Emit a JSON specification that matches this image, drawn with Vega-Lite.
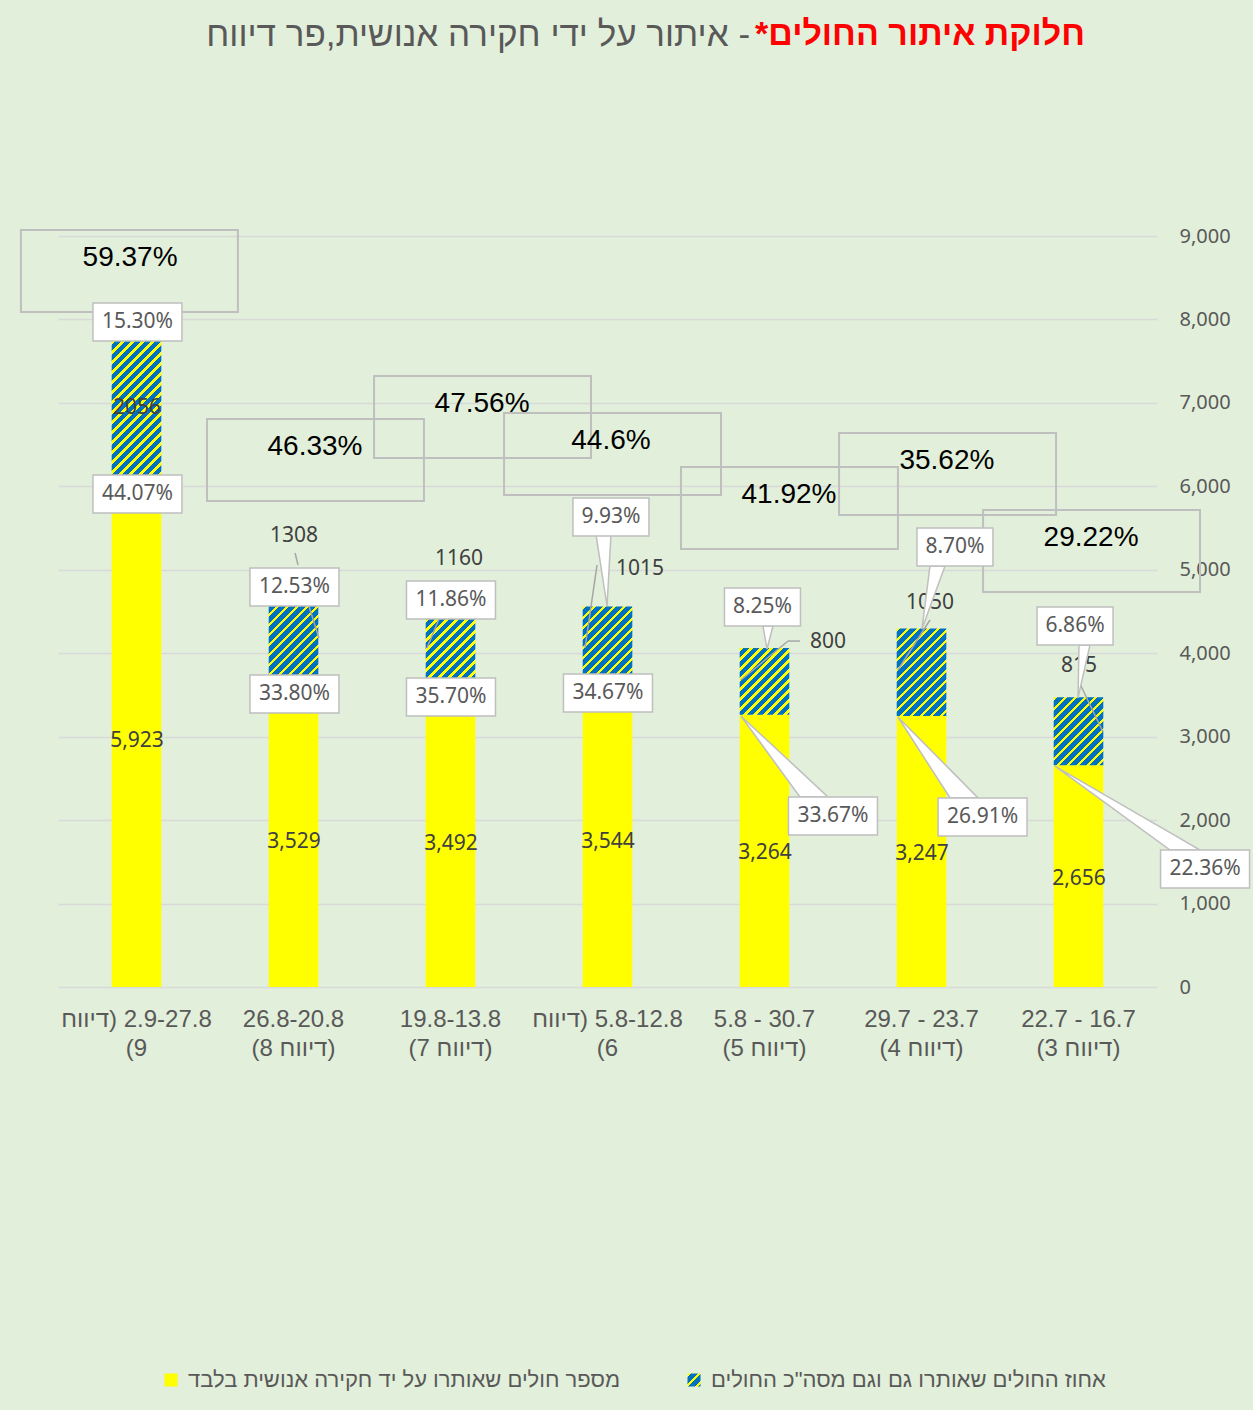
{
  "$schema": "https://vega.github.io/schema/vega-lite/v6.json",
  "width": 1099,
  "height": 751,
  "autosize": {"type": "none"},
  "padding": {"left": 58, "top": 236, "right": 96, "bottom": 423},
  "background": "#E2EFDA",
  "config": {"view": {"stroke": null}},
  "params": [
    {"name": "stripes", "value": [
      {"offset":0,"color":"#ff0"},{"offset":0.0125,"color":"#ff0"},{"offset":0.0125,"color":"#0070c0"},{"offset":0.035714,"color":"#0070c0"},
      {"offset":0.035714,"color":"#ff0"},{"offset":0.048214,"color":"#ff0"},{"offset":0.048214,"color":"#0070c0"},{"offset":0.071429,"color":"#0070c0"},
      {"offset":0.071429,"color":"#ff0"},{"offset":0.083929,"color":"#ff0"},{"offset":0.083929,"color":"#0070c0"},{"offset":0.107143,"color":"#0070c0"},
      {"offset":0.107143,"color":"#ff0"},{"offset":0.119643,"color":"#ff0"},{"offset":0.119643,"color":"#0070c0"},{"offset":0.142857,"color":"#0070c0"},
      {"offset":0.142857,"color":"#ff0"},{"offset":0.155357,"color":"#ff0"},{"offset":0.155357,"color":"#0070c0"},{"offset":0.178571,"color":"#0070c0"},
      {"offset":0.178571,"color":"#ff0"},{"offset":0.191071,"color":"#ff0"},{"offset":0.191071,"color":"#0070c0"},{"offset":0.214286,"color":"#0070c0"},
      {"offset":0.214286,"color":"#ff0"},{"offset":0.226786,"color":"#ff0"},{"offset":0.226786,"color":"#0070c0"},{"offset":0.25,"color":"#0070c0"},
      {"offset":0.25,"color":"#ff0"},{"offset":0.2625,"color":"#ff0"},{"offset":0.2625,"color":"#0070c0"},{"offset":0.285714,"color":"#0070c0"},
      {"offset":0.285714,"color":"#ff0"},{"offset":0.298214,"color":"#ff0"},{"offset":0.298214,"color":"#0070c0"},{"offset":0.321429,"color":"#0070c0"},
      {"offset":0.321429,"color":"#ff0"},{"offset":0.333929,"color":"#ff0"},{"offset":0.333929,"color":"#0070c0"},{"offset":0.357143,"color":"#0070c0"},
      {"offset":0.357143,"color":"#ff0"},{"offset":0.369643,"color":"#ff0"},{"offset":0.369643,"color":"#0070c0"},{"offset":0.392857,"color":"#0070c0"},
      {"offset":0.392857,"color":"#ff0"},{"offset":0.405357,"color":"#ff0"},{"offset":0.405357,"color":"#0070c0"},{"offset":0.428571,"color":"#0070c0"},
      {"offset":0.428571,"color":"#ff0"},{"offset":0.441071,"color":"#ff0"},{"offset":0.441071,"color":"#0070c0"},{"offset":0.464286,"color":"#0070c0"},
      {"offset":0.464286,"color":"#ff0"},{"offset":0.476786,"color":"#ff0"},{"offset":0.476786,"color":"#0070c0"},{"offset":0.5,"color":"#0070c0"},
      {"offset":0.5,"color":"#ff0"},{"offset":0.5125,"color":"#ff0"},{"offset":0.5125,"color":"#0070c0"},{"offset":0.535714,"color":"#0070c0"},
      {"offset":0.535714,"color":"#ff0"},{"offset":0.548214,"color":"#ff0"},{"offset":0.548214,"color":"#0070c0"},{"offset":0.571429,"color":"#0070c0"},
      {"offset":0.571429,"color":"#ff0"},{"offset":0.583929,"color":"#ff0"},{"offset":0.583929,"color":"#0070c0"},{"offset":0.607143,"color":"#0070c0"},
      {"offset":0.607143,"color":"#ff0"},{"offset":0.619643,"color":"#ff0"},{"offset":0.619643,"color":"#0070c0"},{"offset":0.642857,"color":"#0070c0"},
      {"offset":0.642857,"color":"#ff0"},{"offset":0.655357,"color":"#ff0"},{"offset":0.655357,"color":"#0070c0"},{"offset":0.678571,"color":"#0070c0"},
      {"offset":0.678571,"color":"#ff0"},{"offset":0.691071,"color":"#ff0"},{"offset":0.691071,"color":"#0070c0"},{"offset":0.714286,"color":"#0070c0"},
      {"offset":0.714286,"color":"#ff0"},{"offset":0.726786,"color":"#ff0"},{"offset":0.726786,"color":"#0070c0"},{"offset":0.75,"color":"#0070c0"},
      {"offset":0.75,"color":"#ff0"},{"offset":0.7625,"color":"#ff0"},{"offset":0.7625,"color":"#0070c0"},{"offset":0.785714,"color":"#0070c0"},
      {"offset":0.785714,"color":"#ff0"},{"offset":0.798214,"color":"#ff0"},{"offset":0.798214,"color":"#0070c0"},{"offset":0.821429,"color":"#0070c0"},
      {"offset":0.821429,"color":"#ff0"},{"offset":0.833929,"color":"#ff0"},{"offset":0.833929,"color":"#0070c0"},{"offset":0.857143,"color":"#0070c0"},
      {"offset":0.857143,"color":"#ff0"},{"offset":0.869643,"color":"#ff0"},{"offset":0.869643,"color":"#0070c0"},{"offset":0.892857,"color":"#0070c0"},
      {"offset":0.892857,"color":"#ff0"},{"offset":0.905357,"color":"#ff0"},{"offset":0.905357,"color":"#0070c0"},{"offset":0.928571,"color":"#0070c0"},
      {"offset":0.928571,"color":"#ff0"},{"offset":0.941071,"color":"#ff0"},{"offset":0.941071,"color":"#0070c0"},{"offset":0.964286,"color":"#0070c0"},
      {"offset":0.964286,"color":"#ff0"},{"offset":0.976786,"color":"#ff0"},{"offset":0.976786,"color":"#0070c0"},{"offset":1,"color":"#0070c0"}
    ]}
  ],
  "datasets": {
    "bars": [
      {"rep": 9, "cat": "דיווח\u200e) 2.9-27.8\n(9", "series": "מספר חולים שאותרו על יד חקירה אנושית בלבד", "value": 5923},
      {"rep": 9, "cat": "דיווח\u200e) 2.9-27.8\n(9", "series": "אחוז החולים שאותרו גם וגם מסה\"כ החולים", "value": 2056},
      {"rep": 8, "cat": "26.8-20.8\n(8 דיווח)", "series": "מספר חולים שאותרו על יד חקירה אנושית בלבד", "value": 3529},
      {"rep": 8, "cat": "26.8-20.8\n(8 דיווח)", "series": "אחוז החולים שאותרו גם וגם מסה\"כ החולים", "value": 1308},
      {"rep": 7, "cat": "19.8-13.8\n(7 דיווח)", "series": "מספר חולים שאותרו על יד חקירה אנושית בלבד", "value": 3492},
      {"rep": 7, "cat": "19.8-13.8\n(7 דיווח)", "series": "אחוז החולים שאותרו גם וגם מסה\"כ החולים", "value": 1160},
      {"rep": 6, "cat": "דיווח\u200e) 5.8-12.8\n(6", "series": "מספר חולים שאותרו על יד חקירה אנושית בלבד", "value": 3544},
      {"rep": 6, "cat": "דיווח\u200e) 5.8-12.8\n(6", "series": "אחוז החולים שאותרו גם וגם מסה\"כ החולים", "value": 1015},
      {"rep": 5, "cat": "5.8 - 30.7\n(5 דיווח)", "series": "מספר חולים שאותרו על יד חקירה אנושית בלבד", "value": 3264},
      {"rep": 5, "cat": "5.8 - 30.7\n(5 דיווח)", "series": "אחוז החולים שאותרו גם וגם מסה\"כ החולים", "value": 800},
      {"rep": 4, "cat": "29.7 - 23.7\n(4 דיווח)", "series": "מספר חולים שאותרו על יד חקירה אנושית בלבד", "value": 3247},
      {"rep": 4, "cat": "29.7 - 23.7\n(4 דיווח)", "series": "אחוז החולים שאותרו גם וגם מסה\"כ החולים", "value": 1050},
      {"rep": 3, "cat": "22.7 - 16.7\n(3 דיווח)", "series": "מספר חולים שאותרו על יד חקירה אנושית בלבד", "value": 2656},
      {"rep": 3, "cat": "22.7 - 16.7\n(3 דיווח)", "series": "אחוז החולים שאותרו גם וגם מסה\"כ החולים", "value": 815}
    ],
    "notes": [
      {"t":"15.30%","ax":0.506,"ay":7969,"k":"box"},
      {"t":"12.53%","ax":1.506,"ay":4794,"k":"box"},
      {"t":"11.86%","ax":2.503,"ay":4638,"k":"box"},
      {"t":"9.93%","ax":3.522,"ay":5632,"k":"box"},
      {"t":"8.25%","ax":4.487,"ay":4554,"k":"box"},
      {"t":"8.70%","ax":5.713,"ay":5273,"k":"box"},
      {"t":"6.86%","ax":6.478,"ay":4326,"k":"box"},
      {"t":"44.07%","ax":0.506,"ay":5908,"k":"box"},
      {"t":"33.80%","ax":1.506,"ay":3511,"k":"box"},
      {"t":"35.70%","ax":2.503,"ay":3475,"k":"box"},
      {"t":"34.67%","ax":3.503,"ay":3523,"k":"box"},
      {"t":"33.67%","ax":4.936,"ay":2049,"k":"box"},
      {"t":"26.91%","ax":5.889,"ay":2037,"k":"box"},
      {"t":"22.36%","ax":7.306,"ay":1414,"k":"box"},
      {"t":"2056","ax":0.503,"ay":6939,"k":"val"},
      {"t":"1308","ax":1.503,"ay":5405,"k":"val"},
      {"t":"1160","ax":2.554,"ay":5129,"k":"val"},
      {"t":"1015","ax":3.707,"ay":5009,"k":"val"},
      {"t":"800","ax":4.904,"ay":4134,"k":"val"},
      {"t":"1050","ax":5.554,"ay":4602,"k":"val"},
      {"t":"815","ax":6.503,"ay":3847,"k":"val"},
      {"t":"5,923","ax":0.503,"ay":2948,"k":"val"},
      {"t":"3,529","ax":1.503,"ay":1738,"k":"val"},
      {"t":"3,492","ax":2.503,"ay":1714,"k":"val"},
      {"t":"3,544","ax":3.503,"ay":1738,"k":"val"},
      {"t":"3,264","ax":4.503,"ay":1606,"k":"val"},
      {"t":"3,247","ax":5.503,"ay":1594,"k":"val"},
      {"t":"2,656","ax":6.503,"ay":1294,"k":"val"},
      {"t":"59.37%","ax":0.459,"ay":8736,"k":"big"},
      {"t":"46.33%","ax":1.637,"ay":6471,"k":"big"},
      {"t":"47.56%","ax":2.701,"ay":6987,"k":"big"},
      {"t":"44.6%","ax":3.522,"ay":6543,"k":"big"},
      {"t":"41.92%","ax":4.656,"ay":5896,"k":"big"},
      {"t":"35.62%","ax":5.662,"ay":6304,"k":"big"},
      {"t":"29.22%","ax":6.580,"ay":5381,"k":"big"}
    ],
    "frames": [
      {"ax":-0.236,"ax2":1.146,"ay":9072,"ay2":8089},
      {"ax":0.949,"ax2":2.331,"ay":6807,"ay2":5824},
      {"ax":2.013,"ax2":3.395,"ay":7322,"ay2":6340},
      {"ax":2.841,"ax2":4.223,"ay":6879,"ay2":5896},
      {"ax":3.968,"ax2":5.350,"ay":6232,"ay2":5249},
      {"ax":4.975,"ax2":6.357,"ay":6639,"ay2":5656},
      {"ax":5.892,"ax2":7.274,"ay":5716,"ay2":4734}
    ],
    "wedges": [
      {"w":1,"ax":4.350,"ay":3248,"ay2":3248},{"w":1,"ax":4.726,"ay":2590,"ay2":2277},{"w":1,"ax":4.904,"ay":2277,"ay2":2277},
      {"w":2,"ax":5.350,"ay":3236,"ay2":3236},{"w":2,"ax":5.682,"ay":2605,"ay2":2265},{"w":2,"ax":5.860,"ay":2265,"ay2":2265},
      {"w":3,"ax":6.350,"ay":2648,"ay2":2648},{"w":3,"ax":7.083,"ay":1850,"ay2":1642},{"w":3,"ax":7.274,"ay":1642,"ay2":1642},
      {"w":4,"ax":3.427,"ay":5417,"ay2":5417},{"w":4,"ax":3.497,"ay":5417,"ay2":4566},{"w":4,"ax":3.522,"ay":5417,"ay2":5417},
      {"w":5,"ax":5.503,"ay":4290,"ay2":4290},{"w":5,"ax":5.554,"ay":5045,"ay2":4553},{"w":5,"ax":5.650,"ay":5045,"ay2":5045},
      {"w":6,"ax":6.497,"ay":3463,"ay2":3463},{"w":6,"ax":6.503,"ay":4099,"ay2":3516},{"w":6,"ax":6.573,"ay":4099,"ay2":4099},
      {"w":7,"ax":4.490,"ay":4326,"ay2":4326},{"w":7,"ax":4.516,"ay":4326,"ay2":4051},{"w":7,"ax":4.554,"ay":4326,"ay2":4326}
    ],
    "leaders": [
      {"ax":4.726,"ay":4146,"ax2":4.650,"ay2":4146},
      {"ax":4.650,"ay":4146,"ax2":4.350,"ay2":3679},
      {"ax":3.433,"ay":5057,"ax2":3.357,"ay2":4063},
      {"ax":5.554,"ay":4398,"ax2":5.350,"ay2":3799},
      {"ax":6.510,"ay":3631,"ax2":6.656,"ay2":3056},
      {"ax":1.510,"ay":5201,"ax2":1.529,"ay2":5057},
      {"ax":1.592,"ay":4602,"ax2":1.662,"ay2":4182},
      {"ax":2.427,"ay":4410,"ax2":2.350,"ay2":4063}
    ]
  },
  "layer": [
    {
      "data": {"name": "bars"},
      "mark": {"type": "bar"},
      "encoding": {
        "x": {"field": "cat", "type": "nominal", "sort": null,
              "scale": {"paddingInner": 0.684, "paddingOuter": 0.342},
              "axis": {"title": null, "labelExpr": "split(datum.label, '\\n')", "labelAngle": 0, "labelFont": "Liberation Sans", "labelFontSize": 24, "labelColor": "#595959", "labelPadding": 20, "labelLineHeight": 29, "labelLimit": 300, "domain": false, "ticks": false}},
        "y": {"field": "value", "type": "quantitative", "stack": "zero",
              "scale": {"domain": [0, 9000], "nice": false, "zero": false},
              "axis": {"title": null, "orient": "right", "values": [0,1000,2000,3000,4000,5000,6000,7000,8000,9000], "format": ",.0f", "labelFont": "Noto Sans", "labelFontSize": 20, "labelColor": "#595959", "labelPadding": 22, "domain": false, "ticks": false, "grid": true, "gridColor": "#D9D9D9", "gridWidth": 1.5}},
        "order": {"field": "series", "type": "nominal", "sort": "descending"},
        "color": {
          "field": "series", "type": "nominal",
          "scale": {"domain": ["מספר חולים שאותרו על יד חקירה אנושית בלבד", "אחוז החולים שאותרו גם וגם מסה\"כ החולים"],
                    "range": ["#FFFF00", {"expr": "{gradient: 'linear', x1: 0, y1: 0, x2: 10.77, y2: 10.77, stops: stripes}"}]},
          "condition": {"test": "indexof(datum.series, 'אחוז') === 0",
                        "value": {"expr": "{gradient: 'linear', x1: 0, y1: 0, x2: 280*49.6/(2460.16+pow(datum.value*751/9000,2)), y2: 280*datum.value*751/9000/(2460.16+pow(datum.value*751/9000,2)), stops: stripes}"}},
          "legend": {
            "orient": "none", "legendX": 102, "legendY": 1133, "direction": "horizontal", "title": null,
            "symbolType": "square", "symbolSize": 169, "symbolStrokeWidth": 0, "symbolOpacity": 1,
            "labelFont": "Liberation Sans", "labelFontSize": 22, "labelColor": "#595959", "labelLimit": 700, "labelOffset": 6, "columnPadding": 62, "padding": 0
          }
        }
      }
    },
    {
      "data": {"name": "frames"},
      "mark": {"type": "rect", "fillOpacity": 0, "fill": "#ffffff", "stroke": "#BFBFBF", "strokeWidth": 2},
      "encoding": {
        "x": {"field": "ax", "type": "quantitative", "scale": {"domain": [0, 7], "nice": false, "zero": false}, "axis": null},
        "x2": {"field": "ax2"},
        "y": {"field": "ay", "type": "quantitative", "scale": {"domain": [0, 9000], "nice": false, "zero": false}, "axis": null},
        "y2": {"field": "ay2"}
      }
    },
    {
      "data": {"name": "notes"},
      "transform": [{"filter": "datum.k === 'big'"}],
      "mark": {"type": "text", "align": "center", "baseline": "middle", "font": "Liberation Sans", "fontSize": 28, "color": "#000000"},
      "encoding": {
        "x": {"field": "ax", "type": "quantitative", "scale": {"domain": [0, 7], "nice": false, "zero": false}, "axis": null},
        "y": {"field": "ay", "type": "quantitative", "scale": {"domain": [0, 9000], "nice": false, "zero": false}, "axis": null},
        "text": {"field": "t"}
      }
    },
    {
      "data": {"name": "notes"},
      "transform": [{"filter": "datum.k === 'val'"}],
      "mark": {"type": "text", "align": "center", "baseline": "middle", "font": "Noto Sans", "fontSize": 21, "color": "#404040"},
      "encoding": {
        "x": {"field": "ax", "type": "quantitative", "scale": {"domain": [0, 7], "nice": false, "zero": false}, "axis": null},
        "y": {"field": "ay", "type": "quantitative", "scale": {"domain": [0, 9000], "nice": false, "zero": false}, "axis": null},
        "text": {"field": "t"}
      }
    },
    {
      "data": {"name": "leaders"},
      "mark": {"type": "rule", "color": "#A6A6A6", "strokeWidth": 1.5},
      "encoding": {
        "x": {"field": "ax", "type": "quantitative", "scale": {"domain": [0, 7], "nice": false, "zero": false}, "axis": null},
        "x2": {"field": "ax2"},
        "y": {"field": "ay", "type": "quantitative", "scale": {"domain": [0, 9000], "nice": false, "zero": false}, "axis": null},
        "y2": {"field": "ay2"}
      }
    },
    {
      "data": {"name": "wedges"},
      "mark": {"type": "area", "fill": "#FFFFFF", "stroke": "#BFBFBF", "strokeWidth": 1.5, "opacity": 1},
      "encoding": {
        "x": {"field": "ax", "type": "quantitative", "scale": {"domain": [0, 7], "nice": false, "zero": false}, "axis": null},
        "y": {"field": "ay", "type": "quantitative", "scale": {"domain": [0, 9000], "nice": false, "zero": false}, "axis": null},
        "y2": {"field": "ay2"},
        "detail": {"field": "w", "type": "nominal"}
      }
    },
    {
      "data": {"name": "notes"},
      "transform": [{"filter": "datum.k === 'box'"}],
      "mark": {"type": "point", "filled": true, "color": "#FFFFFF", "stroke": "#BFBFBF", "strokeWidth": 1.5, "size": 7921, "opacity": 1},
      "encoding": {
        "x": {"field": "ax", "type": "quantitative", "scale": {"domain": [0, 7], "nice": false, "zero": false}, "axis": null},
        "y": {"field": "ay", "type": "quantitative", "scale": {"domain": [0, 9000], "nice": false, "zero": false}, "axis": null},
        "shape": {"condition": {"test": "length(datum.t) > 5", "value": "M-1,-0.427H1V0.427H-1Z"}, "value": "M-0.854,-0.427H0.854V0.427H-0.854Z"}
      }
    },
    {
      "data": {"name": "notes"},
      "transform": [{"filter": "datum.k === 'box'"}],
      "mark": {"type": "text", "align": "center", "baseline": "middle", "font": "Noto Sans", "fontSize": 21, "color": "#595959"},
      "encoding": {
        "x": {"field": "ax", "type": "quantitative", "scale": {"domain": [0, 7], "nice": false, "zero": false}, "axis": null},
        "y": {"field": "ay", "type": "quantitative", "scale": {"domain": [0, 9000], "nice": false, "zero": false}, "axis": null},
        "text": {"field": "t"}
      }
    },
    {
      "data": {"values": [{}]},
      "mark": {"type": "text", "align": "right", "baseline": "middle", "font": "Liberation Sans", "fontSize": 34, "fontWeight": "bold", "color": "#FF0000", "text": "*חלוקת איתור החולים"},
      "encoding": {
        "x": {"datum": 6.541, "type": "quantitative", "scale": {"domain": [0, 7], "nice": false, "zero": false}, "axis": null},
        "y": {"datum": 11409, "type": "quantitative", "scale": {"domain": [0, 9000], "nice": false, "zero": false}, "axis": null}
      }
    },
    {
      "data": {"values": [{}]},
      "mark": {"type": "text", "align": "right", "baseline": "middle", "font": "Liberation Sans", "fontSize": 35, "color": "#595959", "text": "איתור על ידי חקירה אנושית,פר דיווח -"},
      "encoding": {
        "x": {"datum": 4.408, "type": "quantitative", "scale": {"domain": [0, 7], "nice": false, "zero": false}, "axis": null},
        "y": {"datum": 11409, "type": "quantitative", "scale": {"domain": [0, 9000], "nice": false, "zero": false}, "axis": null}
      }
    }
  ],
  "resolve": {"scale": {"x": "independent", "y": "independent"}}
}
